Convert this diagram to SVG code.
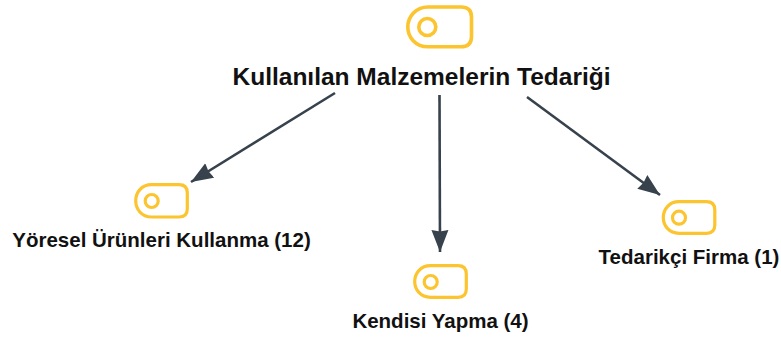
<svg xmlns="http://www.w3.org/2000/svg" width="781" height="340" viewBox="0 0 781 340">
<style>
.ic{fill:none;stroke:#fcc42f;stroke-width:3.2}
.ic2{fill:none;stroke:#fcc42f;stroke-width:3.6}
.t{font-family:"Liberation Sans",Arial,sans-serif;font-weight:700;fill:#111;text-anchor:middle}
.c{fill:none;stroke:#37424d;stroke-width:2.6}
.h{fill:#37424d}
</style>
<defs>
<marker id="a" markerUnits="userSpaceOnUse" markerWidth="24" markerHeight="20" refX="22" refY="9" orient="auto"><path class="h" d="M0 0.500L22 9L0 17.500L1.500 9Z"/></marker>
</defs>
<rect width="781" height="340" fill="#fff"/>
<g id="connectors">
<path class="c" d="M335 93L191 182" marker-end="url(#a)"/>
<path class="c" d="M439.500 95L440 252" marker-end="url(#a)"/>
<path class="c" d="M527 97L660 195" marker-end="url(#a)"/>
</g>
<g id="root">
<path class="ic2" d="M428 7H461Q471.500 7 471.500 17V36.500Q471.500 46.800 461 46.800H428C415.500 46.800 407.800 37 407.800 27S415.500 7 428 7Z"/>
<circle class="ic2" cx="427.300" cy="27" r="8.500"/>
<text class="t" x="421.500" y="84.500" font-size="24.500">Kullanılan Malzemelerin Tedariği</text>
</g>
<g id="n1">
<path class="ic" d="M151.500 184.700H179Q187.300 184.700 187.300 193V208.700Q187.300 217 179 217H151.500C141.500 217 135.700 209 135.700 200.800S141.500 184.700 151.500 184.700Z"/>
<circle class="ic" cx="151.700" cy="201" r="6.500"/>
<text class="t" x="161.500" y="247" font-size="20.500">Yöresel Ürünleri Kullanma (12)</text>
</g>
<g id="n2">
<path class="ic" d="M430.500 265.700H458Q466.300 265.700 466.300 274V289Q466.300 297.300 458 297.300H430.500C420.500 297.300 414.700 289.500 414.700 281.500S420.500 265.700 430.500 265.700Z"/>
<circle class="ic" cx="430.700" cy="282" r="6.500"/>
<text class="t" x="440.500" y="327.500" font-size="20.500">Kendisi Yapma (4)</text>
</g>
<g id="n3">
<path class="ic" d="M679 201.700H706.500Q714.800 201.700 714.800 210V225Q714.800 233.300 706.500 233.300H679C669 233.300 663.300 225.500 663.300 217.500S669 201.700 679 201.700Z"/>
<circle class="ic" cx="679" cy="217.700" r="6.500"/>
<text class="t" x="689" y="264" font-size="20.500">Tedarikçi Firma (1)</text>
</g>
</svg>
